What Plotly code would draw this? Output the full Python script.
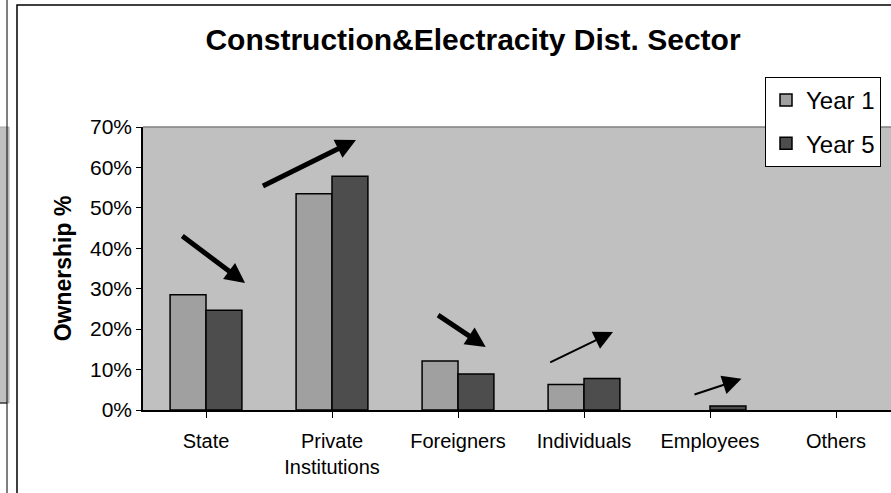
import plotly.graph_objects as go

categories = ["State", "Private<br>Institutions", "Foreigners", "Individuals", "Employees", "Others"]
year1 = [0.285, 0.535, 0.121, 0.063, 0.0, 0.0]
year5 = [0.247, 0.578, 0.089, 0.078, 0.010, 0.0]
y_ticks = [0, 0.1, 0.2, 0.3, 0.4, 0.5, 0.6, 0.7]
y_tick_labels = ["0%", "10%", "20%", "30%", "40%", "50%", "60%", "70%"]

# trend arrows (tail -> tip), in category index / value units
arrows = [
    dict(tail=(-0.20, 0.433), tip=(0.31, 0.314), w=5, s=0.8),
    dict(tail=(0.44, 0.552), tip=(1.19, 0.668), w=5, s=0.8),
    dict(tail=(1.83, 0.237), tip=(2.22, 0.156), w=5, s=0.8),
    dict(tail=(2.72, 0.116), tip=(3.23, 0.193), w=2, s=1.9),
    dict(tail=(3.865, 0.037), tip=(4.25, 0.077), w=2, s=1.9),
]

FONT = "Liberation Sans, Arial, sans-serif"
x_idx = list(range(len(categories)))

def outline(vals):
    return [1.5 if v > 0 else 0 for v in vals]

fig = go.Figure()
fig.add_trace(go.Bar(x=x_idx, y=year1, name="Year 1", legendgroup="y1",
                     marker=dict(color="#A0A0A0", line=dict(color="#000000", width=outline(year1)))))
fig.add_trace(go.Bar(x=x_idx, y=year5, name="Year 5", legendgroup="y5",
                     marker=dict(color="#4D4D4D", line=dict(color="#000000", width=outline(year5)))))

for a in arrows:
    fig.add_annotation(x=a["tip"][0], y=a["tip"][1], ax=a["tail"][0], ay=a["tail"][1],
                       xref="x", yref="y", axref="x", ayref="y", text="",
                       showarrow=True, arrowhead=2, arrowwidth=a["w"], arrowsize=a["s"],
                       arrowcolor="#000000", standoff=0)

L, R, T, B = 143, 891, 127, 410
W, H = 891, 493
pw, ph = R - L, B - T
def px(x): return (x - L) / pw
def py(y): return (B - y) / ph

shapes = [
    # outer chart border
    dict(type="rect", xref="paper", yref="paper", x0=px(17), x1=px(900), y0=py(500), y1=py(5),
         line=dict(color="#000000", width=1.5), fillcolor="rgba(0,0,0,0)", layer="below"),
    # plot area top border
    dict(type="line", xref="paper", yref="paper", x0=0, x1=1, y0=1, y1=1,
         line=dict(color="#808080", width=1.5)),
    # remnant of neighbouring chart on the left
    dict(type="rect", xref="paper", yref="paper", x0=px(-2), x1=px(9), y0=py(403), y1=py(127),
         line=dict(color="#A8A8A8", width=1), fillcolor="#C0C0C0"),
    dict(type="line", xref="paper", yref="paper", x0=px(7), x1=px(7), y0=py(500), y1=py(-5),
         line=dict(color="#000000", width=1)),
    dict(type="line", xref="paper", yref="paper", x0=px(-2), x1=px(7), y0=py(403), y1=py(403),
         line=dict(color="#000000", width=1)),
]

fig.update_layout(
    width=W, height=H,
    margin=dict(l=L, r=W - R, t=T, b=H - B, pad=0),
    paper_bgcolor="#FFFFFF", plot_bgcolor="#C0C0C0",
    font=dict(family=FONT, color="#000000", size=20),
    barmode="group", bargap=0.43, bargroupgap=0,
    title=dict(text="<b>Construction&Electracity Dist. Sector</b>",
               font=dict(family=FONT, size=30, color="#000000"),
               x=473 / W, xref="container", xanchor="center",
               y=1 - 39 / H, yref="container", yanchor="middle"),
    showlegend=True,
    legend=dict(x=px(765), y=py(77), xanchor="left", yanchor="top",
                bgcolor="#FFFFFF", bordercolor="#000000", borderwidth=1,
                font=dict(family=FONT, size=24, color="#000000"),
                traceorder="grouped", tracegroupgap=9, itemwidth=30),
    shapes=shapes,
    xaxis=dict(range=[-0.5, 5.5 - 8 / 126], tickmode="array", tickvals=x_idx,
               ticktext=categories, showline=True, linecolor="#000000", linewidth=1.5,
               ticks="outside", tickson="boundaries", ticklen=6, tickcolor="#000000",
               ticklabelstandoff=6,
               showgrid=False, zeroline=False, fixedrange=True,
               tickfont=dict(family=FONT, size=20, color="#000000")),
    yaxis=dict(range=[0, 0.7], tickmode="array", tickvals=y_ticks, ticktext=y_tick_labels,
               showline=True, linecolor="#000000", linewidth=1.5,
               ticks="outside", ticklen=5, tickcolor="#000000",
               showgrid=False, zeroline=False, fixedrange=True,
               tickfont=dict(family=FONT, size=21, color="#000000"),
               title=dict(text="<b>Ownership %</b>", font=dict(family=FONT, size=23, color="#000000"),
                          standoff=12)),
)

fig.write_html("out.html", config={"displayModeBar": False},
               post_script="document.body.style.margin='0';")
